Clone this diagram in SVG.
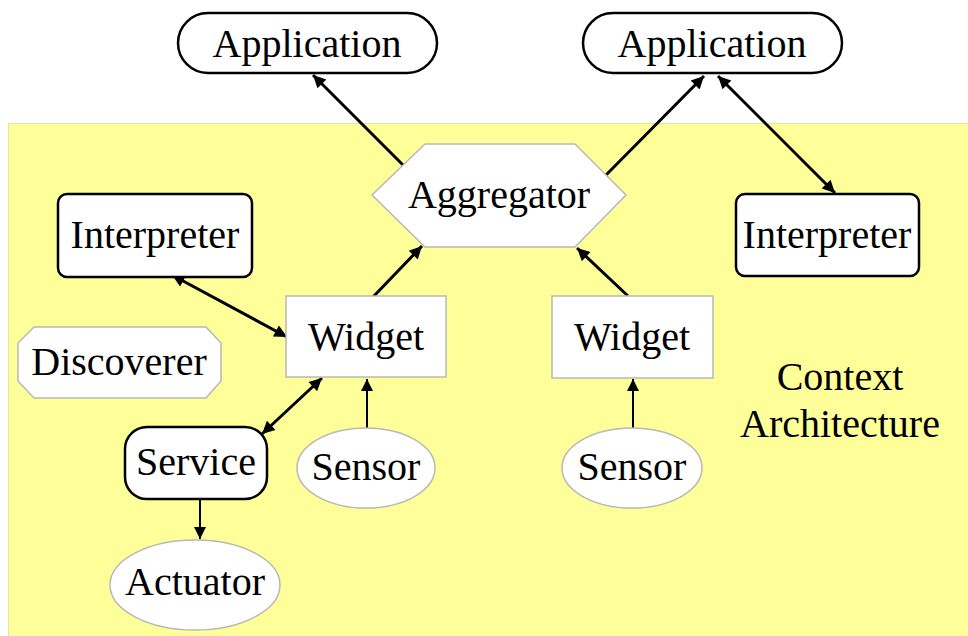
<svg xmlns="http://www.w3.org/2000/svg" width="968" height="636" viewBox="0 0 968 636" font-family="Liberation Serif, Times New Roman, serif">
<defs>
<style>
text{font-family:'Liberation Serif','Times New Roman','DejaVu Serif',serif;font-size:40px;fill:#000;text-anchor:middle}
.app,.interp,.svc{fill:#fff;stroke:#000;stroke-width:2.5}
.light{fill:#fff;stroke:#b8b8b8;stroke-width:1.5}
.thick{stroke:#000;stroke-width:3;fill:none}
.thin{stroke:#000;stroke-width:2;fill:none}
</style>
<marker id="ah" viewBox="0 0 10 10" refX="10" refY="5" markerWidth="5.5" markerHeight="4.2" markerUnits="strokeWidth" orient="auto-start-reverse">
<path d="M0,0 L10,5 L0,10 z" fill="#000"/>
</marker>
<marker id="ah2" viewBox="0 0 10 10" refX="10" refY="5" markerWidth="7" markerHeight="6" markerUnits="strokeWidth" orient="auto-start-reverse">
<path d="M0,0 L10,5 L0,10 z" fill="#000"/>
</marker>
</defs>
<rect width="968" height="636" fill="#fff"/>
<rect id="context" x="8.5" y="123.5" width="970" height="520" fill="#ffff99" stroke="#e6e69a" stroke-width="1"/>
<g id="connectors">
<line class="thick" x1="403" y1="165" x2="313" y2="75" marker-end="url(#ah)"/>
<line class="thick" x1="606" y1="175" x2="704" y2="76" marker-end="url(#ah)"/>
<line class="thick" x1="718" y1="76" x2="835" y2="193" marker-start="url(#ah)" marker-end="url(#ah)"/>
<line class="thick" x1="373" y1="297" x2="422" y2="246" marker-end="url(#ah)"/>
<line class="thick" x1="628" y1="296" x2="577" y2="248" marker-end="url(#ah)"/>
<line class="thick" x1="172" y1="275" x2="287" y2="337" marker-start="url(#ah)" marker-end="url(#ah)"/>
<line class="thick" x1="322" y1="378" x2="262" y2="434" marker-start="url(#ah)" marker-end="url(#ah)"/>
<line class="thin" x1="367" y1="428" x2="367" y2="379" marker-end="url(#ah2)"/>
<line class="thin" x1="633" y1="428" x2="633" y2="379" marker-end="url(#ah2)"/>
<line class="thin" x1="200" y1="499" x2="200" y2="539" marker-end="url(#ah2)"/>
</g>
<g id="app1"><rect class="app" x="178" y="13" width="259" height="60" rx="30"/><text x="307" y="57">Application</text></g>
<g id="app2"><rect class="app" x="583" y="13" width="259" height="60" rx="30"/><text x="712" y="57">Application</text></g>
<g id="aggregator"><polygon class="light" points="425,144 575,144 626,195 575,247 425,247 372,195"/><text x="499" y="208">Aggregator</text></g>
<g id="interp1"><rect class="interp" x="58" y="194" width="194" height="83" rx="9"/><text x="155" y="248">Interpreter</text></g>
<g id="interp2"><rect class="interp" x="736" y="194" width="183" height="82" rx="9"/><text x="827" y="248">Interpreter</text></g>
<g id="widget1"><rect class="light" x="286" y="296" width="160" height="81"/><text x="366" y="350">Widget</text></g>
<g id="widget2"><rect class="light" x="552" y="296" width="161" height="82"/><text x="632" y="350">Widget</text></g>
<g id="discoverer"><polygon class="light" points="34,327 206,327 221,343 221,381 206,398 34,398 18,381 18,343"/><text x="119" y="375">Discoverer</text></g>
<g id="service"><rect class="svc" x="125" y="427" width="142" height="72" rx="22"/><text x="196" y="475">Service</text></g>
<g id="sensor1"><ellipse class="light" cx="366" cy="468" rx="69" ry="40"/><text x="366" y="480">Sensor</text></g>
<g id="sensor2"><ellipse class="light" cx="632" cy="468" rx="70" ry="40"/><text x="632" y="480">Sensor</text></g>
<g id="actuator"><ellipse class="light" cx="195" cy="585" rx="85" ry="45"/><text x="195" y="595">Actuator</text></g>
<g id="label"><text x="840" y="390">Context</text><text x="840" y="437">Architecture</text></g>
</svg>
